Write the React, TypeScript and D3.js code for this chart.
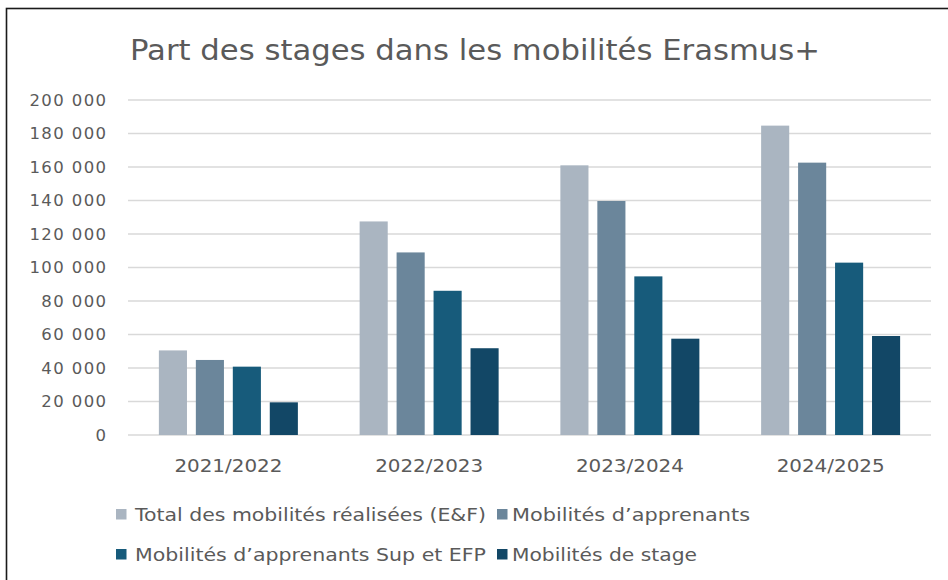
import React from "react";
import * as d3 from "d3";

const categories = ["2021/2022", "2022/2023", "2023/2024", "2024/2025"];
const seriesNames = [
  "Total des mobilités réalisées (E&F)",
  "Mobilités d’apprenants",
  "Mobilités d’apprenants Sup et EFP",
  "Mobilités de stage",
];
const totalValues = [50500, 127500, 161000, 184700];
const apprenantsValues = [44800, 109000, 139700, 162600];
const supEfpValues = [40800, 86100, 94700, 102900];
const stageValues = [19500, 51800, 57500, 59100];
const seriesColors = ["#aab5c1", "#6b869b", "#175b7b", "#124766"];
const yTicks = [0, 20000, 40000, 60000, 80000, 100000, 120000, 140000, 160000, 180000, 200000];
const title = "Part des stages dans les mobilités Erasmus+";

const W = 948;
const H = 580;
const FONT = "'DejaVu Sans', 'Open Sans', sans-serif";
const TXT = "#5a5a5a";

export default function App() {
  const allSeries = [totalValues, apprenantsValues, supEfpValues, stageValues];
  const plotL = 128, plotR = 931, plotT = 100, plotB = 435;
  const x = d3.scaleBand<string>().domain(categories).range([plotL, plotR]).paddingInner(0).paddingOuter(0);
  const groupW = 139;
  const inner = d3.scaleBand<number>().domain([0, 1, 2, 3]).range([0, groupW]).paddingInner(0.24).paddingOuter(0);
  const y = d3.scaleLinear().domain([0, 200000]).range([plotB, plotT]);
  const fmt = (v: number) => d3.format(",")(v).replace(/,/g, " ");

  // legend layout: [series index, square x, text x, text length]
  const legendRows = [
    [[0, 116, 135, 351], [1, 497, 512, 238]],
    [[2, 116, 135, 351], [3, 497, 512, 185]],
  ];
  const legendY = [514, 554];

  return (
    <svg width={W} height={H} style={{ position: "absolute", left: 0, top: 0, background: "#fff" }} fontFamily={FONT}>
      <rect x={0} y={0} width={W} height={H} fill="#fff" />
      <rect x={6.5} y={8.5} width={W + 20} height={H + 20} fill="none" stroke="#1a1a1a" strokeWidth={1.6} />
      <text x={130} y={60} fontSize={28} fill={TXT} textLength={690} lengthAdjust="spacingAndGlyphs">{title}</text>
      {yTicks.map((t) => (
        <g key={t}>
          <line x1={plotL} x2={plotR} y1={y(t)} y2={y(t)} stroke="#d9d9d9" strokeWidth={1.5} />
          <text x={107.5} y={y(t)} dy="0.36em" textAnchor="end" fontSize={16.5} letterSpacing={1.4} fill={TXT}>{fmt(t)}</text>
        </g>
      ))}
      {categories.map((c, ci) => {
        const gx = (x(c) as number) + (x.bandwidth() - groupW) / 2;
        const cx = (x(c) as number) + x.bandwidth() / 2;
        return (
          <g key={c}>
            {allSeries.map((s, si) => (
              <rect key={si} x={gx + (inner(si) as number)} y={y(s[ci])} width={inner.bandwidth()} height={plotB - y(s[ci])} fill={seriesColors[si]} />
            ))}
            <text x={cx - 54} y={472} fontSize={18} fill={TXT} textLength={108} lengthAdjust="spacingAndGlyphs">{c}</text>
          </g>
        );
      })}
      {legendRows.map((row, ri) => (
        <g key={ri}>
          {row.map(([i, sx, tx, tl]) => (
            <g key={i}>
              <rect x={sx} y={legendY[ri] - 5} width={10.5} height={10.5} fill={seriesColors[i]} />
              <text x={tx} y={legendY[ri] + 6.5} fontSize={18} fill={TXT} textLength={tl} lengthAdjust="spacingAndGlyphs">{seriesNames[i]}</text>
            </g>
          ))}
        </g>
      ))}
    </svg>
  );
}
